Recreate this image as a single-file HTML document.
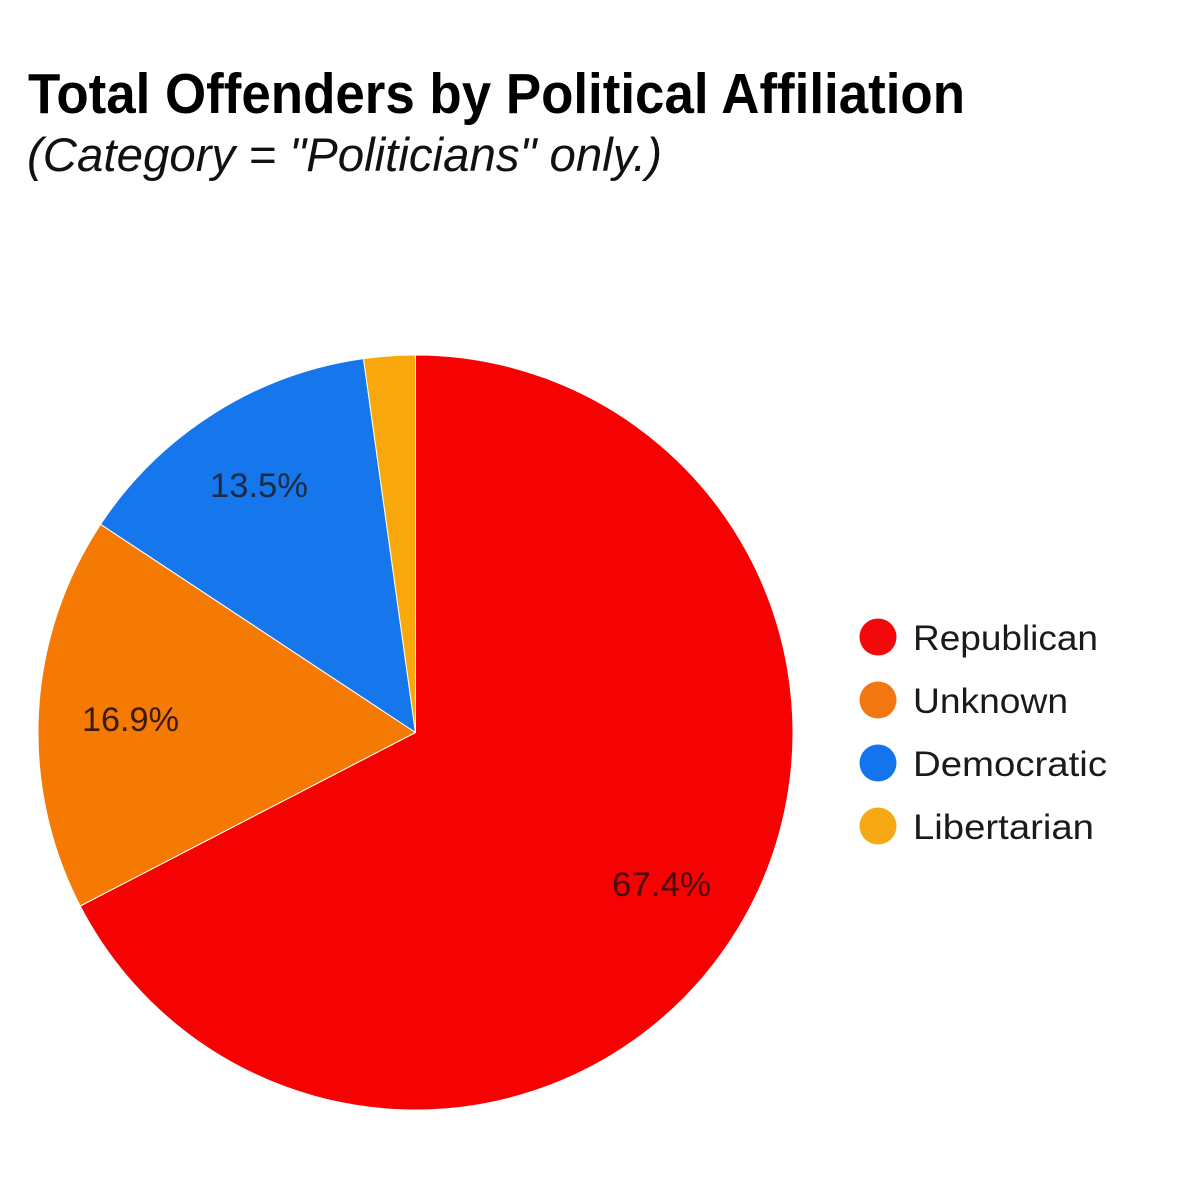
<!DOCTYPE html>
<html>
<head>
<meta charset="utf-8">
<style>
html,body{margin:0;padding:0;background:#fff;}
svg{display:block;}
text{font-family:"Liberation Sans",Arial,sans-serif;}
</style>
</head>
<body>
<svg width="1200" height="1182" viewBox="0 0 1200 1182" xmlns="http://www.w3.org/2000/svg">
  <rect width="1200" height="1182" fill="#ffffff"/>
  <text x="28" y="113" font-size="57" font-weight="bold" fill="#000" textLength="937" lengthAdjust="spacingAndGlyphs">Total Offenders by Political Affiliation</text>
  <text x="27" y="171" font-size="47" font-style="italic" fill="#111" textLength="635" lengthAdjust="spacingAndGlyphs">(Category = "Politicians" only.)</text>

  <g stroke="#ffffff" stroke-width="1" stroke-linejoin="round">
    <path d="M415.5,732.5 L415.5,355 A377.5,377.5 0 1 1 80.2,906.0 Z" fill="#f70202"/>
    <path d="M415.5,732.5 L80.2,906.0 A377.5,377.5 0 0 1 100.6,524.3 Z" fill="#f57a04"/>
    <path d="M415.5,732.5 L100.6,524.3 A377.5,377.5 0 0 1 363.5,358.6 Z" fill="#1677ec"/>
    <path d="M415.5,732.5 L363.5,358.6 A377.5,377.5 0 0 1 415.5,355 Z" fill="#f8a80c"/>
  </g>

  <text x="210" y="497" font-size="34" fill="#1c2a44" textLength="98" lengthAdjust="spacingAndGlyphs">13.5%</text>
  <text x="82" y="731" font-size="34" fill="#3a1a0a" textLength="97" lengthAdjust="spacingAndGlyphs">16.9%</text>
  <text x="612" y="896" font-size="34" fill="#4a0808" textLength="99" lengthAdjust="spacingAndGlyphs">67.4%</text>

  <circle cx="878" cy="637" r="18.5" fill="#f20a0a"/>
  <circle cx="878" cy="700" r="18.5" fill="#f27711"/>
  <circle cx="878" cy="763" r="18.5" fill="#1474ee"/>
  <circle cx="878" cy="826" r="18.5" fill="#f6a914"/>

  <text x="913" y="650" font-size="35" fill="#1a1a1a" textLength="185" lengthAdjust="spacingAndGlyphs">Republican</text>
  <text x="913" y="713" font-size="35" fill="#1a1a1a" textLength="155" lengthAdjust="spacingAndGlyphs">Unknown</text>
  <text x="913" y="776" font-size="35" fill="#1a1a1a" textLength="194" lengthAdjust="spacingAndGlyphs">Democratic</text>
  <text x="913" y="839" font-size="35" fill="#1a1a1a" textLength="181" lengthAdjust="spacingAndGlyphs">Libertarian</text>
</svg>
</body>
</html>
